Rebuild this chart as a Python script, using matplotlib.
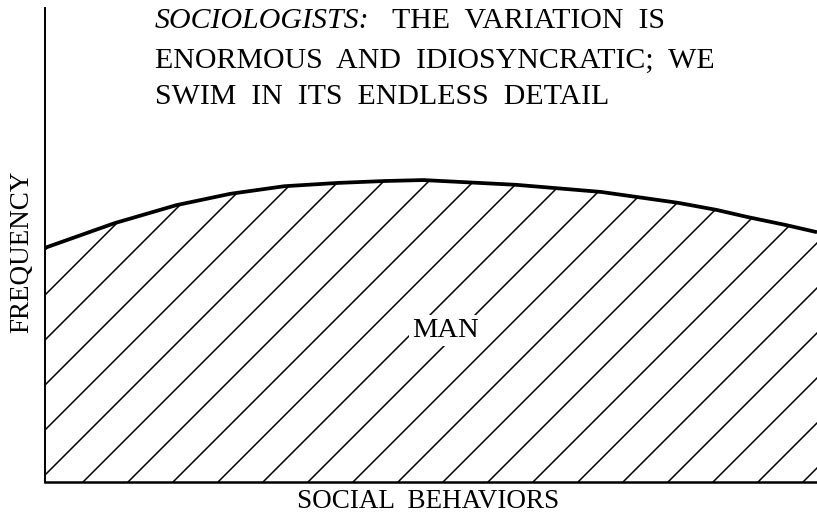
import matplotlib
matplotlib.use("Agg")
import matplotlib.pyplot as plt
import numpy as np
from matplotlib.collections import LineCollection

# ---- data ----
behavior = [0, 9, 17, 24, 31, 38, 44, 49, 61, 72, 82, 87, 91, 96, 100]
frequency = [49.4, 54.6, 58.4, 60.8, 62.4, 63.1, 63.5, 63.7, 62.7, 61.2,
             58.9, 57.4, 55.9, 54.2, 52.7]
title_lead = "SOCIOLOGISTS:"
title_lines = ["THE  VARIATION  IS",
               "ENORMOUS  AND  IDIOSYNCRATIC;  WE",
               "SWIM  IN  ITS  ENDLESS  DETAIL"]
area_label = "MAN"
x_label = "SOCIAL  BEHAVIORS"
y_label = "FREQUENCY"

W, H = 817, 517
fig = plt.figure(figsize=(W / 100, H / 100), dpi=100)
fig.patch.set_facecolor("white")
ax = fig.add_axes([45 / W, 35 / H, 772 / W, 474 / H])
ax.set_xlim(0, 100)
ax.set_ylim(0, 100)
ax.set_xticks([])
ax.set_yticks([])
for s in ("top", "right"):
    ax.spines[s].set_visible(False)
ax.spines["left"].set_linewidth(1.4)
ax.spines["bottom"].set_linewidth(1.8)
for s in ("left", "bottom"):
    ax.spines[s].set_color("black")

SERIF = "Liberation Serif"


def fp(px, py):
    return (px / W, 1 - py / H)


# filled area (invisible) used as clip for hand-made hatch
fill = ax.fill_between(behavior, frequency, 0, facecolor="none",
                       edgecolor="none")

# diagonal hatch lines, 45 deg, 0.45 in spacing
spacing = 0.45
b0 = -0.48
segs = [[(-1.0, -1.0 + b), (10.0, 10.0 + b)]
        for b in b0 + spacing * np.arange(-25, 26)]
lc = LineCollection(segs, transform=fig.dpi_scale_trans, colors="black",
                    linewidths=1.1)
ax.add_collection(lc, autolim=False)
lc.set_clip_path(fill.get_paths()[0], fill.get_transform())

# curve
ax.plot(behavior, frequency, color="black", lw=2.7, clip_on=False,
        solid_capstyle="butt", solid_joinstyle="round", zorder=3)

# labels
fig.text(*fp(445, 337), area_label, family=SERIF, fontsize=20.5,
         ha="center", va="baseline", zorder=5,
         bbox=dict(facecolor="white", edgecolor="none", pad=2))
fig.text(*fp(428, 508), x_label, family=SERIF, fontsize=19.5,
         ha="center", va="baseline")
fig.text(*fp(28, 252), y_label, family=SERIF, fontsize=19.5,
         ha="center", va="baseline", rotation=90, rotation_mode="anchor")

# top annotation
TS = 21.5
fig.text(*fp(155, 28), title_lead, family=SERIF, style="italic",
         fontsize=TS, ha="left", va="baseline")
fig.text(*fp(392, 28), title_lines[0], family=SERIF, fontsize=TS,
         ha="left", va="baseline")
fig.text(*fp(155, 68), title_lines[1], family=SERIF, fontsize=TS,
         ha="left", va="baseline")
fig.text(*fp(155, 104), title_lines[2], family=SERIF, fontsize=TS,
         ha="left", va="baseline")

fig.savefig("out.png", dpi=100, facecolor="white")
